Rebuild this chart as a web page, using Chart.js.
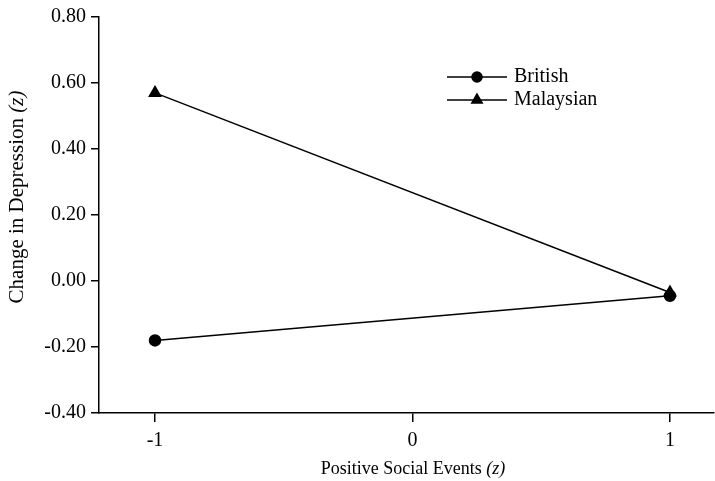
<!DOCTYPE html>
<html>
<head>
<meta charset="utf-8">
<script src="https://cdn.jsdelivr.net/npm/chart.js@4"></script>
<style>
  html, body { margin: 0; padding: 0; background: #fff; }
  #wrap { width: 715px; height: 481px; }
</style>
</head>
<body>
<div id="wrap"><canvas id="chart" width="715" height="481"></canvas></div>
<script>
// data
const xValues = [-1, 1];
const xTicks = [-1, 0, 1];
const british = [-0.18, -0.045];
const malaysian = [0.57, -0.035];
const seriesNames = ["British", "Malaysian"];

const FONT = '"Liberation Serif", "DejaVu Serif", serif';

function points(ys) {
  return xValues.map((x, i) => ({ x: x, y: ys[i] }));
}

// draw roman text followed by an italic part, centred on cx,cy
function mixedText(ctx, plain, ital, size, cx, cy) {
  ctx.font = size + "px " + FONT;
  const w1 = ctx.measureText(plain).width;
  ctx.font = "italic " + size + "px " + FONT;
  const w2 = ctx.measureText(ital).width;
  const sx = cx - (w1 + w2) / 2;
  ctx.textBaseline = "middle";
  ctx.textAlign = "left";
  ctx.font = size + "px " + FONT;
  ctx.fillText(plain, sx, cy);
  ctx.font = "italic " + size + "px " + FONT;
  ctx.fillText(ital, sx + w1, cy);
}

// legend + axis titles
const overlay = {
  id: "overlay",
  afterDraw(chart) {
    const ctx = chart.ctx;
    ctx.save();
    ctx.fillStyle = "#000";
    ctx.strokeStyle = "#000";

    const rows = [
      { name: seriesNames[0], style: "circle", y: 77 },
      { name: seriesNames[1], style: "triangle", y: 100 }
    ];
    rows.forEach(r => {
      ctx.lineWidth = 1.5;
      ctx.beginPath();
      ctx.moveTo(447, r.y);
      ctx.lineTo(507, r.y);
      ctx.stroke();
      Chart.helpers.drawPoint(ctx, { pointStyle: r.style, radius: r.style === "circle" ? 5 : 6, rotation: 0, borderWidth: 1 }, 477, r.y);
      ctx.fill();
      ctx.font = "20px " + FONT;
      ctx.textBaseline = "middle";
      ctx.textAlign = "left";
      ctx.fillText(r.name, 514, r.y);
    });

    mixedText(ctx, "Positive Social Events ", "(z)", 18, 413, 469);

    ctx.translate(17, 197);
    ctx.rotate(-Math.PI / 2);
    mixedText(ctx, "Change in Depression ", "(z)", 21, 0, 0);
    ctx.restore();
  }
};

new Chart(document.getElementById("chart"), {
  type: "line",
  data: {
    datasets: [
      {
        label: seriesNames[0],
        data: points(british),
        borderColor: "#000",
        backgroundColor: "#000",
        borderWidth: 1.5,
        pointStyle: "circle",
        pointRadius: 5.5,
        pointHoverRadius: 5.5
      },
      {
        label: seriesNames[1],
        data: points(malaysian),
        borderColor: "#000",
        backgroundColor: "#000",
        borderWidth: 1.5,
        pointStyle: "triangle",
        pointRadius: 6.5,
        pointHoverRadius: 6.5
      }
    ]
  },
  options: {
    responsive: false,
    animation: false,
    layout: { autoPadding: false, padding: { top: 15, right: 1, left: 0, bottom: 0 } },
    plugins: {
      legend: { display: false },
      tooltip: { enabled: false }
    },
    scales: {
      x: {
        type: "linear",
        min: -1.2175,
        max: 1.171,
        afterBuildTicks(scale) {
          scale.ticks = xTicks.map(v => ({ value: v }));
        },
        afterFit(scale) {
          scale.height = 68;
          scale.paddingLeft = 0;
          scale.paddingRight = 0;
        },
        grid: { drawOnChartArea: false, drawTicks: true, tickLength: 9, color: "#000", lineWidth: 1.5 },
        border: { display: true, color: "#000", width: 1.5 },
        ticks: {
          color: "#000",
          font: { family: FONT, size: 20 },
          padding: 7,
          callback: v => String(v)
        }
      },
      y: {
        min: -0.4,
        max: 0.8,
        afterFit(scale) { scale.width = 99; },
        grid: { drawOnChartArea: false, drawTicks: true, tickLength: 8, color: "#000", lineWidth: 1.5 },
        border: { display: true, color: "#000", width: 1.5 },
        ticks: {
          stepSize: 0.2,
          color: "#000",
          font: { family: FONT, size: 20 },
          padding: 5,
          callback: v => (Math.abs(v) < 1e-9 ? 0 : v).toFixed(2)
        }
      }
    }
  },
  plugins: [overlay]
});
</script>
</body>
</html>
